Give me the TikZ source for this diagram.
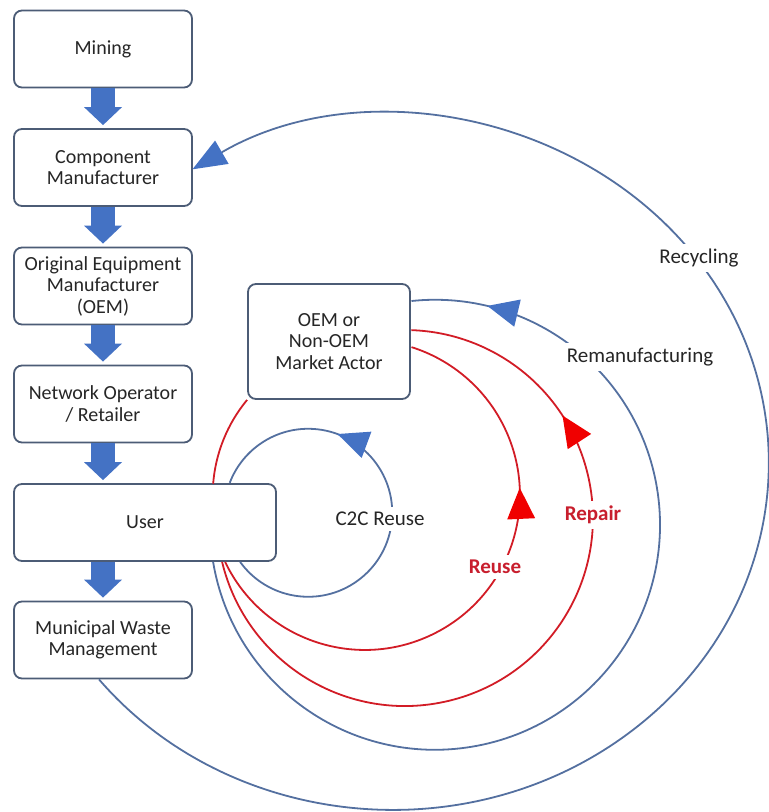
\documentclass[tikz,border=0pt]{standalone}
\usepackage{fontspec}
\setmainfont{Carlito}
\usetikzlibrary{arrows.meta,decorations.markings}
\definecolor{boxline}{RGB}{76,92,118}
\definecolor{arcblue}{RGB}{84,112,160}
\definecolor{arrowblue}{RGB}{68,114,196}
\definecolor{arcred}{RGB}{210,28,38}
\definecolor{tipred}{RGB}{240,0,0}
\definecolor{textred}{RGB}{200,30,45}
\definecolor{txt}{RGB}{38,38,38}
\begin{document}
\begin{tikzpicture}[x=1pt,y=-1pt,
  box/.style={draw=boxline, line width=1.8pt, rounded corners=8pt, fill=white, align=center, text=txt,
    font=\fontsize{20}{21.5}\selectfont, minimum width=178pt, minimum height=77pt, inner sep=2pt},
  blockarrow/.style={draw=arrowblue, line width=24pt,
    -{Triangle[width=38pt,length=18pt,line width=0pt,color=arrowblue]}, shorten >=3pt},
  bluearc/.style={draw=arcblue, line width=1.8pt},
  redarc/.style={draw=arcred, line width=1.8pt},
  looplabel/.style={fill=white, text=txt, font=\fontsize{21}{24}\selectfont, inner sep=5pt},
  redlabel/.style={fill=white, text=textred, font=\bfseries\fontsize{21}{24}\selectfont, inner sep=5pt},
  midtip/.style 2 args={postaction={decorate}, decoration={markings,
    mark=at position #1 with {\arrow{Triangle[width=28pt,length=31pt,line width=0pt,color=#2]}}}},
]
\useasboundingbox (0,0) rectangle (769,812);

% boxes
\node[box] (mining) at (103,49) {Mining};
\node[box] (comp) at (103,167.5) {Component\\Manufacturer};
\node[box] (oem) at (103,286) {Original Equipment\\Manufacturer\\(OEM)};
\node[box] (net) at (103,404) {Network Operator\\/ Retailer};
\node[box, minimum width=262pt] (user) at (145,522.5) {User};
\node[box] (muni) at (103,640) {Municipal Waste\\Management};
\node[box, minimum width=162pt, minimum height=115pt] (actor) at (329,341.5) {OEM or\\Non-OEM\\Market Actor};

% block arrows of the linear chain
\draw[blockarrow] (mining) -- (comp);
\draw[blockarrow] (comp) -- (oem);
\draw[blockarrow] (oem) -- (net);
\draw[blockarrow] (net.south) -- (net.south |- user.north);
\draw[blockarrow] (muni.north |- user.south) -- (muni.north);

% start points of the loops
\coordinate (recS) at ([xshift=-4pt]muni.south);
\coordinate (remS) at ([xshift=200pt]user.south west);
\coordinate (repS) at ([xshift=209pt]user.south west);
\coordinate (reuS) at ([xshift=212pt]user.south west);
\coordinate (c2cS) at ([xshift=227pt]user.south west);

% Recycling
\draw[bluearc, -{Triangle[width=27pt,length=34pt,line width=0pt,color=arrowblue]}]
  (recS) arc[start angle=-141.4, end angle=122.2, x radius=376pt, y radius=347pt];
% Remanufacturing
\draw[bluearc, midtip={0.927}{arrowblue}]
  (remS) arc[start angle=-170.5, end angle=96, radius=225pt];
% Repair
\draw[redarc, midtip={0.784}{tipred}]
  (repS) arc[start angle=-166.5, end angle=88, radius=188pt];
% Reuse
\draw[redarc, midtip={0.692}{tipred}]
  (reuS) arc[start angle=-154.4, end angle=72.5, radius=155pt];
% C2C reuse
\draw[bluearc, midtip={0.705}{arrowblue}]
  (c2cS) arc[start angle=-144.2, end angle=159.1, radius=84pt];
% actor to user
\draw[redarc] (actor.south west) arc[start angle=140.4, end angle=175.5, radius=150pt];

% labels
\node[looplabel] (lrec) at (699,258) {Recycling};
\node[looplabel] (lrem) at (640,357) {Remanufacturing};
\node[looplabel] (lc2c) at (380,519) {C2C Reuse};
\node[redlabel] (lrep) at (593,515) {Repair};
\node[redlabel] (lreu) at (495,567) {Reuse};
\end{tikzpicture}
\end{document}
